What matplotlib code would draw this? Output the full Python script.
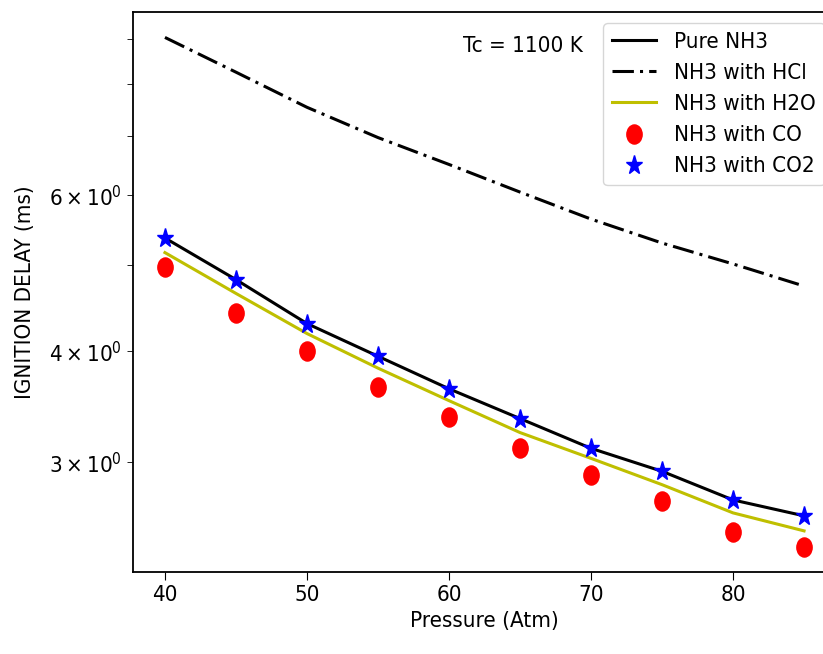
import matplotlib
matplotlib.use('Agg')
import matplotlib.pyplot as plt
from matplotlib.markers import MarkerStyle
from matplotlib.transforms import Affine2D

# Data
pressure = [40, 45, 50, 55, 60, 65, 70, 75, 80, 85]
pure_nh3 = [5.37, 4.82, 4.30, 3.95, 3.63, 3.36, 3.11, 2.93, 2.72, 2.61]
nh3_hcl = [9.04, 8.26, 7.54, 6.97, 6.50, 6.05, 5.64, 5.30, 5.02, 4.74]
nh3_h2o = [5.17, 4.65, 4.19, 3.83, 3.52, 3.24, 3.03, 2.83, 2.63, 2.51]
nh3_co = [4.98, 4.42, 4.00, 3.65, 3.37, 3.11, 2.90, 2.71, 2.50, 2.41]
nh3_co2 = [5.37, 4.82, 4.30, 3.95, 3.63, 3.36, 3.11, 2.93, 2.72, 2.61]

plt.rcParams['font.family'] = ['DejaVu Sans']
plt.rcParams['font.stretch'] = 'condensed'
fs = 16

fig = plt.figure(figsize=(8.23, 6.54), dpi=100)
ax = fig.add_axes([0.1616, 0.1254, 0.8542, 0.8563])

# markers are slightly taller than wide in the reference
tall = Affine2D().scale(1.0, 1.25)
circle = MarkerStyle('o', transform=tall)
star = MarkerStyle('*', transform=tall)

ax.plot(pressure, pure_nh3, 'k-', lw=2.2, label='Pure NH3')
ax.plot(pressure, nh3_hcl, 'k-.', lw=2.2, dashes=[7, 2, 1, 2], label='NH3 with HCl')
ax.plot(pressure, nh3_h2o, 'y-', lw=2.2, label='NH3 with H2O')
ax.plot(pressure, nh3_co, 'r', ls='none', marker=circle, ms=11, label='NH3 with CO')
ax.plot(pressure, nh3_co2, 'b', ls='none', marker=star, ms=12, label='NH3 with CO2')

ax.set_yscale('log')
ax.set_xlabel('Pressure (Atm)', fontsize=fs)
ax.set_ylabel('IGNITION DELAY (ms)', fontsize=fs, labelpad=10)
ax.tick_params(which='both', labelsize=fs)
ax.tick_params(which='minor', length=4.5)
ax.tick_params(which='major', length=6)
for s in ax.spines.values():
    s.set_linewidth(1.3)

ax.text(61, 8.85, 'Tc = 1100 K', fontsize=fs, va='center')
ax.legend(loc='upper right', fontsize=fs)

fig.savefig('out.png', dpi=100)
